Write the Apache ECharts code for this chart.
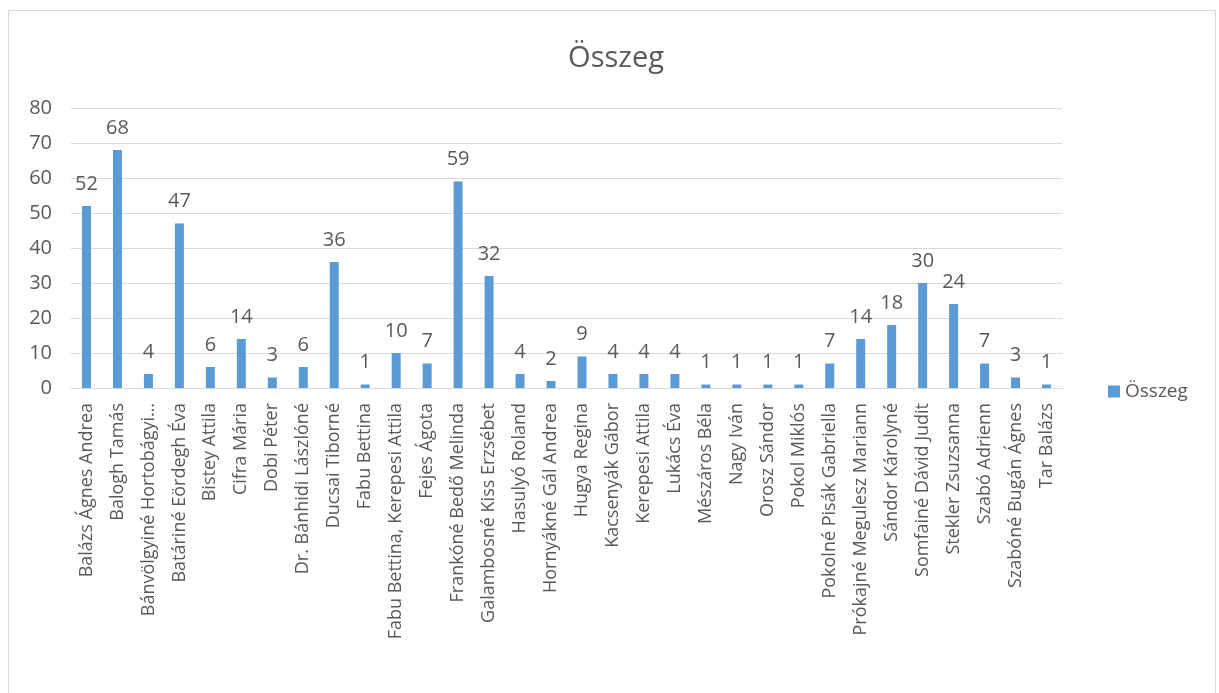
<!DOCTYPE html>
<html>
<head>
<meta charset="utf-8">
<script src="https://cdn.jsdelivr.net/npm/echarts@6/dist/echarts.min.js"></script>
<style>
  html, body { margin: 0; padding: 0; background: #ffffff; }
  #chart { width: 1219px; height: 693px; }
  #frame { position: absolute; left: 8px; top: 10px; width: 1206px; height: 690px;
           border: 1px solid #d9d9d9; pointer-events: none; }
</style>
</head>
<body>
<div id="chart"></div>
<div id="frame"></div>
<script>
// nevek
var names = [
  'Balázs Ágnes Andrea', 'Balogh Tamás', 'Bánvölgyiné Hortobágyi…', 'Batáriné Eördegh Éva',
  'Bistey Attila', 'Cifra Mária', 'Dobi Péter', 'Dr. Bánhidi Lászlóné', 'Ducsai Tiborné',
  'Fabu Bettina', 'Fabu Bettina, Kerepesi Attila', 'Fejes Ágota', 'Frankóné Bedő Melinda',
  'Galambosné Kiss Erzsébet', 'Hasulyó Roland', 'Hornyákné Gál Andrea', 'Hugya Regina',
  'Kacsenyák Gábor', 'Kerepesi Attila', 'Lukács Éva', 'Mészáros Béla', 'Nagy Iván',
  'Orosz Sándor', 'Pokol Miklós', 'Pokolné Pisák Gabriella', 'Prókajné Megulesz Mariann',
  'Sándor Károlyné', 'Somfainé Dávid Judit', 'Stekler Zsuzsanna', 'Szabó Adrienn',
  'Szabóné Bugán Ágnes', 'Tar Balázs'
];
var osszeg = [52, 68, 4, 47, 6, 14, 3, 6, 36, 1, 10, 7, 59, 32, 4, 2, 9, 4, 4, 4, 1, 1, 1, 1, 7, 14, 18, 30, 24, 7, 3, 1];
var seriesName = 'Összeg';

var chart = echarts.init(document.getElementById('chart'));
var font = '"Open Sans", sans-serif';

var option = {
  backgroundColor: '#ffffff',
  textStyle: { fontFamily: font },
  title: {
    text: 'Összeg',
    left: 611,
    textAlign: 'center',
    top: 39,
    textStyle: { fontSize: 29, fontWeight: 'normal', color: '#595959', fontFamily: font }
  },
  legend: {
    data: [seriesName],
    orient: 'vertical',
    left: 1103,
    top: 377,
    itemWidth: 12,
    itemHeight: 12,
    itemGap: 4,
    icon: 'rect',
    textStyle: { fontSize: 19, color: '#595959', fontFamily: font }
  },
  grid: { left: 71, right: 157, top: 108, bottom: 305, containLabel: false },
  xAxis: {
    type: 'category',
    data: names,
    axisTick: { show: false },
    axisLine: { lineStyle: { color: '#d9d9d9' } },
    axisLabel: { rotate: 90, interval: 0, margin: 15, fontSize: 18, color: '#595959', fontFamily: font }
  },
  yAxis: {
    type: 'value',
    min: 0,
    max: 80,
    interval: 10,
    axisLine: { show: false },
    axisTick: { show: false },
    splitLine: { lineStyle: { color: '#d9d9d9' } },
    axisLabel: { margin: 19, fontSize: 20, color: '#595959', fontFamily: font }
  },
  series: [{
    name: seriesName,
    type: 'bar',
    data: osszeg,
    barWidth: 9,
    itemStyle: { color: '#5b9bd5' },
    label: { show: true, position: 'top', distance: 12, fontSize: 20, color: '#595959', fontFamily: font }
  }]
};

chart.setOption(option);
</script>
</body>
</html>
